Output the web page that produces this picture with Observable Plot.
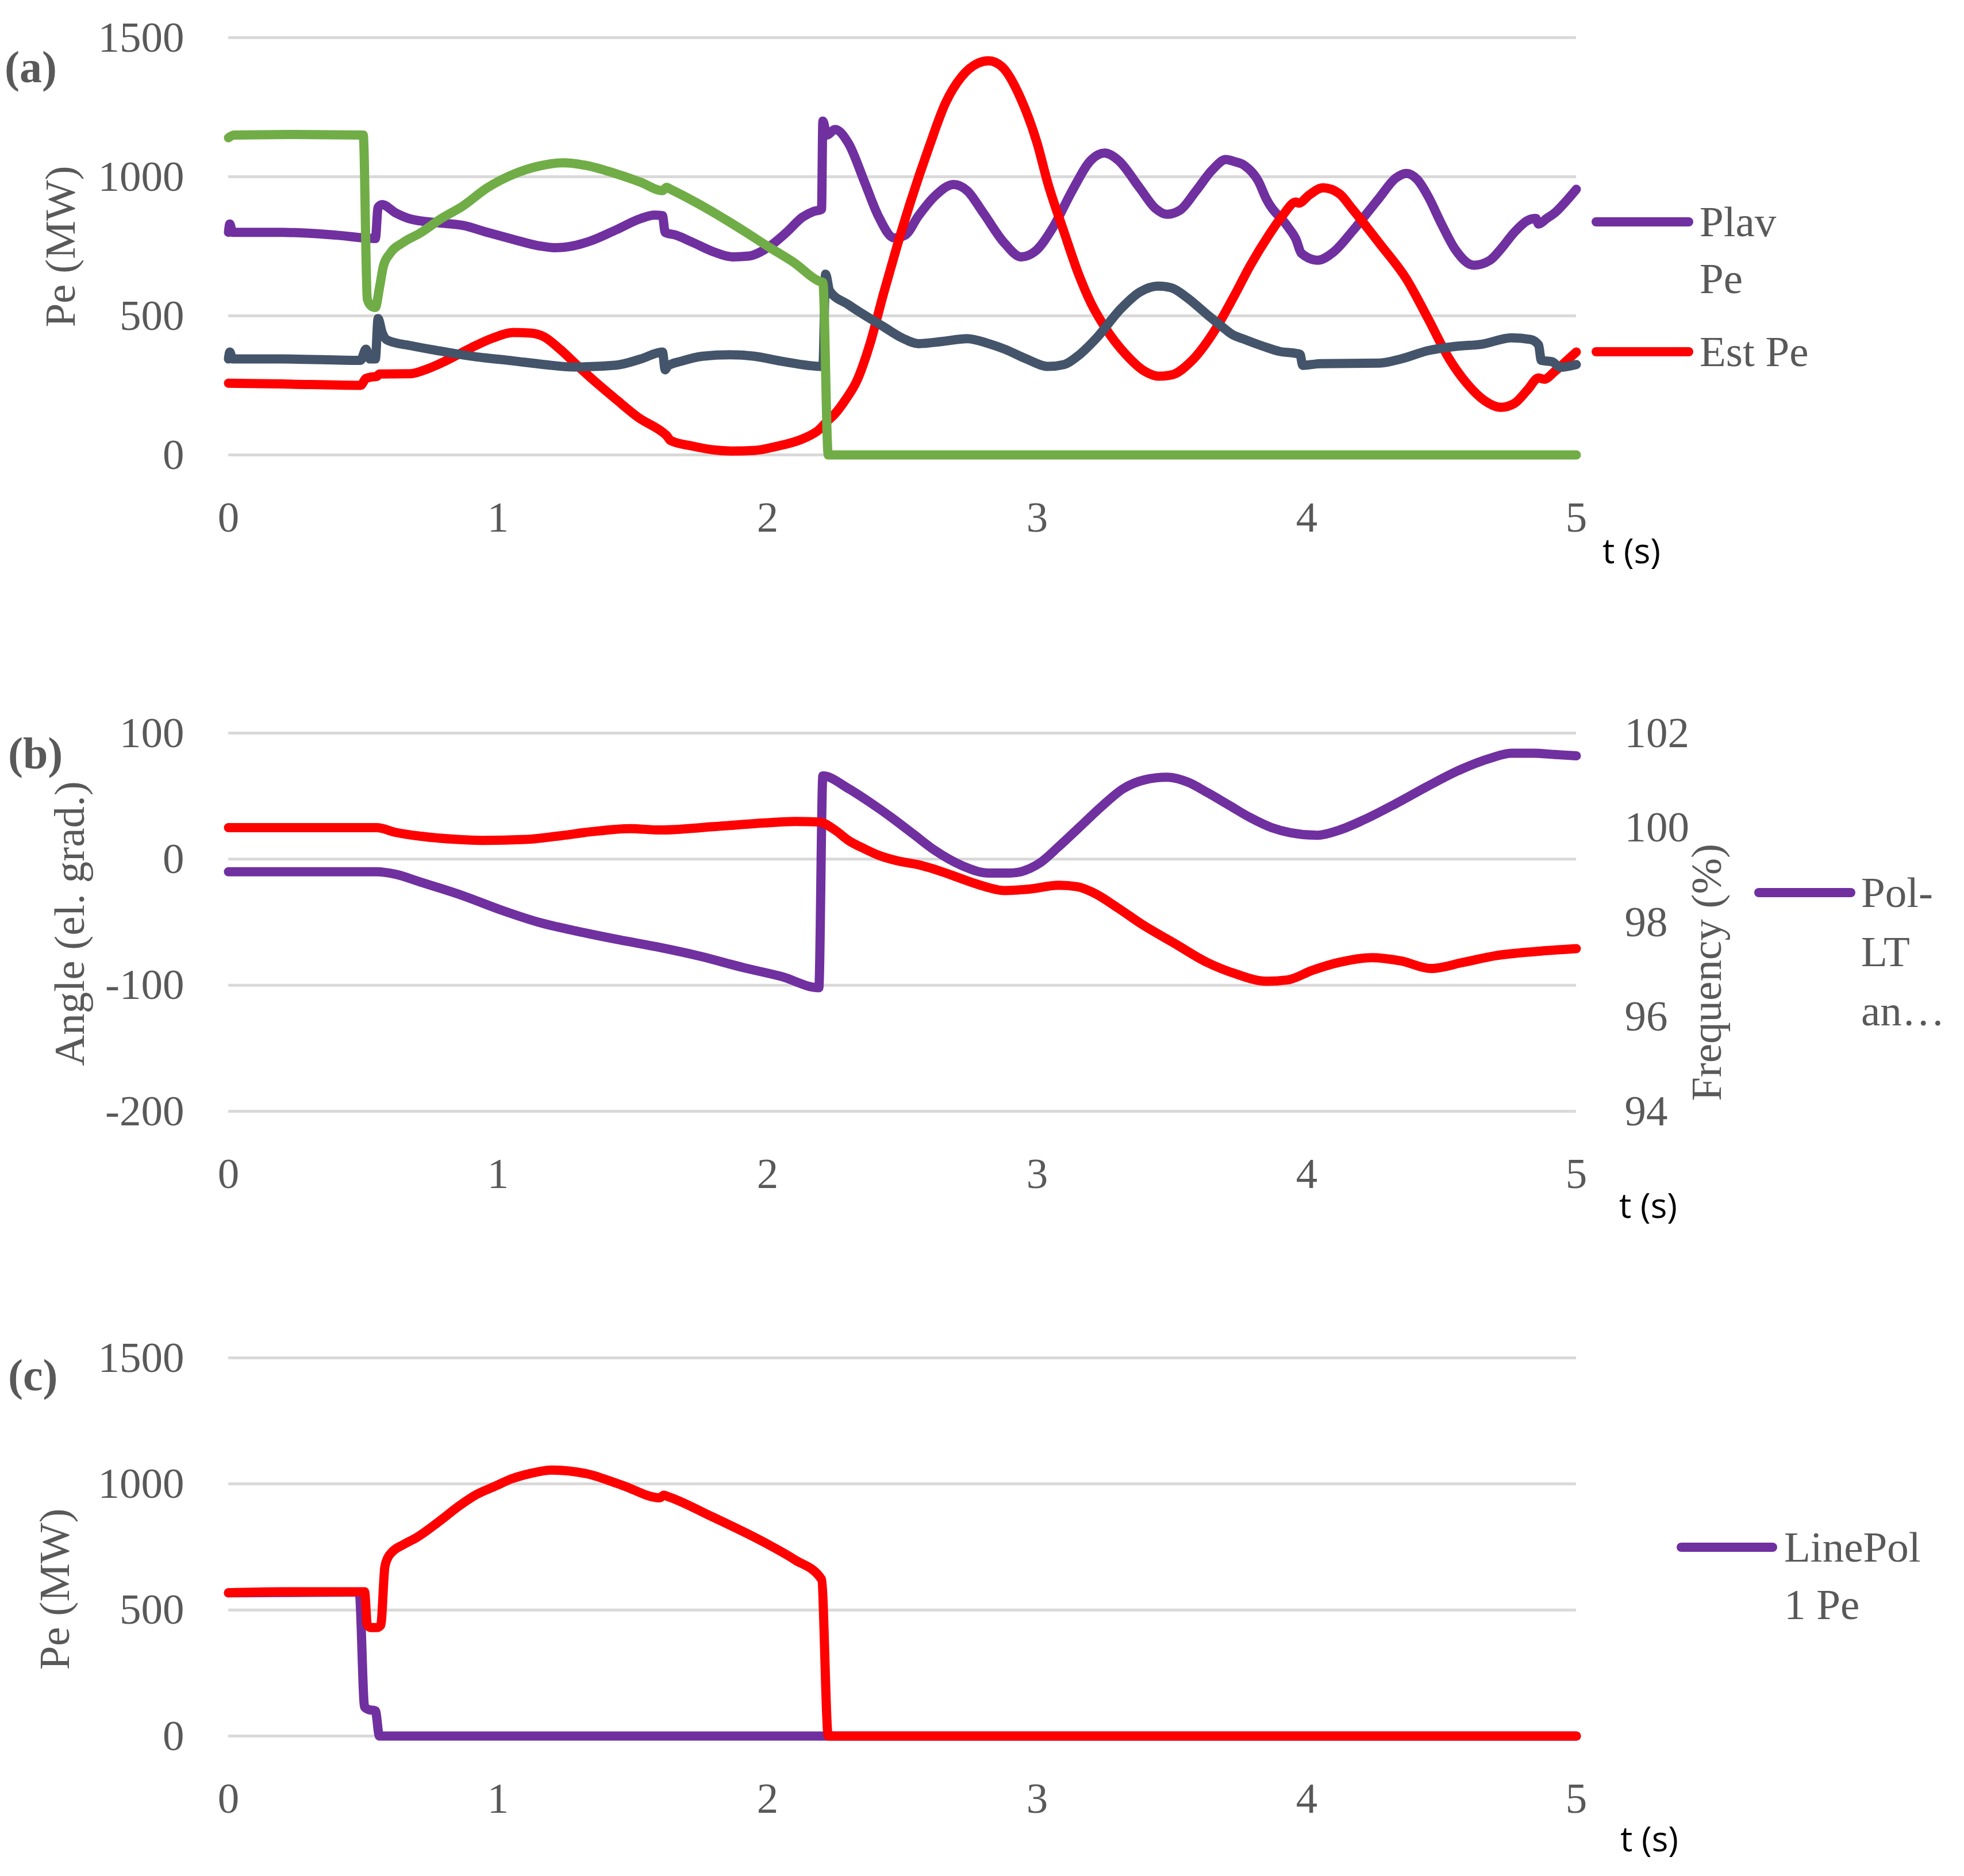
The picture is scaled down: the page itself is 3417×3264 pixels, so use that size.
<!DOCTYPE html>
<html>
<head>
<meta charset="utf-8">
<script src="https://cdn.jsdelivr.net/npm/d3@7"></script>
<script src="https://cdn.jsdelivr.net/npm/@observablehq/plot@0.6"></script>
<style>
  body { margin: 0; background: white; }
  #fig { position: relative; width: 3417px; height: 3264px; background: white; overflow: hidden;
         font-family: "Liberation Serif", serif; color: #595959; }
  #fig svg { position: absolute; left: 0; }
  .txt { position: absolute; white-space: nowrap; font-size: 75px; line-height: 100px; transform: translate(0, -50%); }
  .rot { position: absolute; white-space: nowrap; font-size: 75px; line-height: 100px; transform: translate(-50%, -50%) rotate(-90deg); }
  .tag { position: absolute; white-space: nowrap; font-size: 78px; font-weight: bold; line-height: 100px; transform: translate(0, -50%); }
  .ts { position: absolute; white-space: nowrap; font-family: "Open Sans", sans-serif; font-size: 60px; line-height: 80px; color: black; transform: translate(0, -50%); }
  .sw { position: absolute; height: 16px; border-radius: 8px; }
</style>
</head>
<body>
<div id="fig"></div>
<script>
// ---- panel (a): Pe (MW) ----
const plavT  = [0, 0.005, 0.015, 0.2, 0.4, 0.545, 0.555, 0.57, 0.62, 0.675, 0.77, 0.87, 0.96, 1.056, 1.15, 1.21, 1.28, 1.34, 1.44, 1.53, 1.58, 1.61, 1.62, 1.66, 1.72, 1.8, 1.87, 1.93, 2.0, 2.07, 2.13, 2.17, 2.2, 2.205, 2.22, 2.25, 2.3, 2.36, 2.41, 2.47, 2.51, 2.56, 2.62, 2.69, 2.74, 2.8, 2.88, 2.94, 2.99, 3.06, 3.13, 3.2, 3.25, 3.3, 3.38, 3.44, 3.48, 3.53, 3.59, 3.65, 3.7, 3.73, 3.77, 3.82, 3.85, 3.93, 3.96, 3.98, 4.04, 4.1, 4.17, 4.27, 4.33, 4.37, 4.41, 4.45, 4.5, 4.55, 4.62, 4.68, 4.72, 4.77, 4.82, 4.85, 4.86, 4.89, 4.92, 4.96, 5.0];
const plavPe = [800, 830, 800, 800, 790, 778, 890, 900, 870, 848, 835, 825, 800, 775, 752, 745, 752, 768, 810, 850, 862, 860, 800, 790, 765, 730, 712, 715, 745, 800, 855, 875, 883, 1200, 1150, 1170, 1120, 980, 860, 780, 790, 860, 930, 972, 950, 870, 760, 712, 730, 820, 950, 1060, 1085, 1060, 960, 885, 865, 880, 950, 1025, 1062, 1055, 1040, 985, 920, 820, 775, 725, 700, 730, 805, 925, 995, 1012, 990, 930, 830, 740, 682, 700, 740, 800, 843, 850, 830, 850, 870, 910, 955];

const estT  = [0, 0.2, 0.49, 0.51, 0.53, 0.55, 0.56, 0.675, 0.74, 0.81, 0.9, 0.98, 1.056, 1.12, 1.17, 1.23, 1.3, 1.37, 1.44, 1.52, 1.61, 1.625, 1.64, 1.72, 1.8, 1.87, 1.95, 2.03, 2.14, 2.19, 2.22, 2.25, 2.29, 2.33, 2.38, 2.43, 2.48, 2.53, 2.6, 2.66, 2.72, 2.78, 2.82, 2.87, 2.94, 3.0, 3.04, 3.1, 3.15, 3.2, 3.25, 3.33, 3.4, 3.45, 3.5, 3.57, 3.655, 3.73, 3.79, 3.86, 3.91, 3.96, 3.97, 4.01, 4.06, 4.12, 4.17, 4.27, 4.37, 4.45, 4.53, 4.6, 4.66, 4.72, 4.77, 4.82, 4.86, 4.88, 4.92, 4.96, 5.0];
const estPe = [258, 255, 250, 275, 280, 282, 291, 292, 310, 340, 385, 420, 440, 438, 425, 380, 316, 255, 198, 135, 82, 70, 52, 32, 18, 14, 16, 30, 62, 90, 120, 148, 200, 264, 400, 580, 750, 909, 1110, 1265, 1360, 1408, 1417, 1395, 1279, 1120, 975, 800, 659, 545, 461, 360, 300, 283, 288, 335, 442, 570, 680, 791, 860, 909, 905, 935, 960, 940, 883, 760, 632, 490, 343, 250, 195, 171, 185, 235, 277, 272, 300, 335, 370];

const slateT  = [0, 0.005, 0.015, 0.2, 0.49, 0.51, 0.525, 0.545, 0.555, 0.57, 0.59, 0.68, 0.77, 0.9, 1.056, 1.17, 1.28, 1.44, 1.53, 1.61, 1.62, 1.63, 1.68, 1.76, 1.86, 1.95, 2.05, 2.205, 2.215, 2.23, 2.3, 2.43, 2.5, 2.56, 2.65, 2.74, 2.82, 2.88, 2.96, 3.04, 3.1, 3.15, 3.22, 3.31, 3.38, 3.45, 3.5, 3.555, 3.63, 3.7, 3.72, 3.77, 3.84, 3.9, 3.96, 3.975, 3.985, 4.05, 4.27, 4.35, 4.45, 4.55, 4.65, 4.76, 4.83, 4.86, 4.87, 4.91, 4.94, 5.0];
const slatePe = [345, 370, 345, 345, 340, 380, 345, 345, 490, 440, 412, 392, 376, 355, 338, 325, 316, 323, 345, 370, 306, 320, 337, 355, 360, 355, 337, 318, 650, 590, 540, 461, 420, 400, 408, 418, 400, 380, 345, 318, 325, 355, 420, 525, 585, 607, 600, 566, 505, 450, 435, 415, 390, 372, 365, 362, 322, 328, 330, 345, 375, 390, 398, 421, 415, 395, 340, 335, 315, 325];

const greenT  = [0, 0.02, 0.25, 0.5, 0.515, 0.53, 0.545, 0.56, 0.575, 0.6, 0.65, 0.71, 0.79, 0.87, 0.96, 1.06, 1.15, 1.24, 1.33, 1.44, 1.53, 1.61, 1.625, 1.64, 1.72, 1.82, 1.92, 2.0, 2.1, 2.19, 2.205, 2.225, 5.0];
const greenPe = [1140, 1150, 1152, 1150, 560, 535, 530, 600, 680, 725, 765, 797, 850, 895, 960, 1010, 1038, 1050, 1040, 1010, 980, 950, 962, 955, 915, 860, 800, 750, 690, 625, 620, 0, 0];

// ---- panel (b): angle (left axis) and frequency (right axis) ----
const polT     = [0, 0.3, 0.55, 0.62, 0.71, 0.87, 1.02, 1.15, 1.29, 1.45, 1.6, 1.75, 1.91, 2.05, 2.19, 2.205, 2.3, 2.38, 2.46, 2.54, 2.62, 2.72, 2.82, 2.9, 3.01, 3.08, 3.16, 3.24, 3.32, 3.4, 3.48, 3.56, 3.63, 3.71, 3.79, 3.87, 3.94, 4.04, 4.12, 4.21, 4.33, 4.45, 4.57, 4.68, 4.76, 4.84, 4.92, 5.0];
const polAngle = [-10, -10, -10, -12, -18, -29, -41, -50, -57, -64, -70, -77, -86, -93, -102, 66, 56, 45, 33, 20, 7, -5, -11, -11, -3, 10, 26, 42, 56, 63, 65, 61, 53, 43, 33, 25, 21, 19, 23, 31, 44, 58, 71, 80, 84, 84, 83, 82];

const freqT   = [0, 0.3, 0.55, 0.62, 0.71, 0.85, 0.94, 1.1, 1.22, 1.34, 1.49, 1.6, 1.8, 1.99, 2.1, 2.19, 2.25, 2.3, 2.36, 2.41, 2.48, 2.57, 2.63, 2.69, 2.78, 2.88, 2.97, 3.08, 3.15, 3.21, 3.3, 3.39, 3.51, 3.63, 3.74, 3.85, 3.93, 4.02, 4.12, 4.24, 4.35, 4.46, 4.58, 4.7, 4.85, 5.0];
const freqPct = [100, 100, 100, 99.9, 99.82, 99.75, 99.73, 99.75, 99.82, 99.91, 99.98, 99.95, 100.02, 100.1, 100.13, 100.12, 99.95, 99.73, 99.55, 99.42, 99.3, 99.2, 99.1, 98.98, 98.8, 98.67, 98.7, 98.78, 98.75, 98.62, 98.3, 97.95, 97.55, 97.15, 96.9, 96.75, 96.78, 96.98, 97.15, 97.25, 97.18, 97.02, 97.15, 97.29, 97.38, 97.44];

// ---- panel (c): line power ----
const linePolT  = [0, 0.3, 0.485, 0.505, 0.52, 0.545, 0.56, 5.0];
const linePolPe = [568, 570, 571, 115, 105, 100, 0, 0];

const lineRedT  = [0, 0.2, 0.4, 0.505, 0.515, 0.53, 0.55, 0.565, 0.58, 0.59, 0.607, 0.65, 0.699, 0.78, 0.856, 0.92, 0.989, 1.05, 1.118, 1.2, 1.33, 1.46, 1.6, 1.615, 1.63, 1.79, 1.99, 2.1, 2.2, 2.225, 5.0];
const lineRedPe = [568, 572, 572, 572, 440, 430, 430, 440, 670, 705, 730, 760, 788, 850, 913, 958, 991, 1020, 1041, 1055, 1040, 995, 945, 955, 950, 872, 767, 700, 622, 0, 0];

const xTicks = [0, 1, 2, 3, 4, 5];
const peTicks = [0, 500, 1000, 1500];
const angleTicks = [-200, -100, 0, 100];
const freqTicks = [94, 96, 98, 100, 102];

const purple = "#7030A0", red = "#FF0000", green = "#70AD47", slate = "#44546A";

// frequency drawn on the angle scale: 94..102 % spans -200..100
const freqToAngle = f => -200 + (f - 94) * 37.5;
const angleToFreq = a => Math.round(94 + (a + 200) / 37.5);

const pts = (t, v) => t.map((d, i) => ({t: d, v: v[i]}));

function series(t, v, color) {
  return Plot.line(pts(t, v), {
    x: "t", y: "v", stroke: color, strokeWidth: 16,
    strokeLinejoin: "round", strokeLinecap: "round", curve: "monotone-x"
  });
}

function panel({top, height, mTop, mBottom, yDomain, yTicks, lines, extra = []}) {
  const chart = Plot.plot({
    width: 3417, height,
    marginLeft: 397, marginRight: 675, marginTop: mTop, marginBottom: mBottom,
    x: {domain: [0, 5], label: null},
    y: {domain: yDomain, label: null},
    style: {fontFamily: "Liberation Serif", fontSize: "75px", color: "#595959", background: "transparent", overflow: "visible"},
    marks: [
      Plot.gridY({ticks: yTicks, stroke: "#D9D9D9", strokeOpacity: 1, strokeWidth: 5}),
      Plot.axisX({ticks: xTicks, tickSize: 0, tickPadding: 80, label: null, tickFormat: d => String(d)}),
      Plot.axisY({ticks: yTicks, tickSize: 0, tickPadding: 77, label: null, tickFormat: d => String(d)}),
      ...extra,
      ...lines
    ]
  });
  chart.style.top = top + "px";
  document.getElementById("fig").appendChild(chart);
}

panel({
  top: 0, height: 1000, mTop: 65, mBottom: 209, yDomain: [0, 1500], yTicks: peTicks,
  lines: [
    series(plavT, plavPe, purple),
    series(estT, estPe, red),
    series(slateT, slatePe, slate),
    series(greenT, greenPe, green)
  ]
});

panel({
  top: 1150, height: 1000, mTop: 125, mBottom: 217, yDomain: [-200, 100], yTicks: angleTicks,
  extra: [
    Plot.axisY({anchor: "right", ticks: freqTicks.map(freqToAngle), tickSize: 0, tickPadding: 84,
                label: null, tickFormat: angleToFreq})
  ],
  lines: [
    series(polT, polAngle, purple),
    series(freqT, freqPct.map(freqToAngle), red)
  ]
});

panel({
  top: 2300, height: 964, mTop: 62, mBottom: 244, yDomain: [0, 1500], yTicks: peTicks,
  lines: [
    series(linePolT, linePolPe, purple),
    series(lineRedT, lineRedPe, red)
  ]
});

// labels, tags and legends
const fig = document.getElementById("fig");
function put(cls, text, x, y, color) {
  const el = document.createElement("div");
  el.className = cls;
  el.textContent = text;
  el.style.left = x + "px";
  el.style.top = y + "px";
  if (color) el.style.color = color;
  fig.appendChild(el);
}
function swatch(x1, x2, y, color) {
  const el = document.createElement("div");
  el.className = "sw";
  el.style.left = x1 + "px";
  el.style.width = (x2 - x1) + "px";
  el.style.top = (y - 8) + "px";
  el.style.background = color;
  fig.appendChild(el);
}

put("tag", "(a)", 8, 117);
put("tag", "(b)", 14, 1311);
put("tag", "(c)", 14, 2393);

put("rot", "Pe (MW)", 105, 429);
put("rot", "Angle (el. grad.)", 121, 1607);
put("rot", "Frequency (%)", 2969, 1692);
put("rot", "Pe (MW)", 95, 2765);

put("ts", "t (s)", 2788, 957);
put("ts", "t (s)", 2817, 2096);
put("ts", "t (s)", 2819, 3198);

swatch(2769, 2946, 386, purple);
put("txt", "Plav", 2957, 386);
put("txt", "Pe", 2957, 485);
swatch(2769, 2946, 612, red);
put("txt", "Est Pe", 2957, 612);

swatch(3052, 3228, 1553, purple);
put("txt", "Pol-", 3238, 1553);
put("txt", "LT", 3238, 1656);
put("txt", "an…", 3238, 1759);

swatch(2917, 3092, 2692, purple);
put("txt", "LinePol", 3104, 2692);
put("txt", "1 Pe", 3104, 2792);
</script>
</body>
</html>
